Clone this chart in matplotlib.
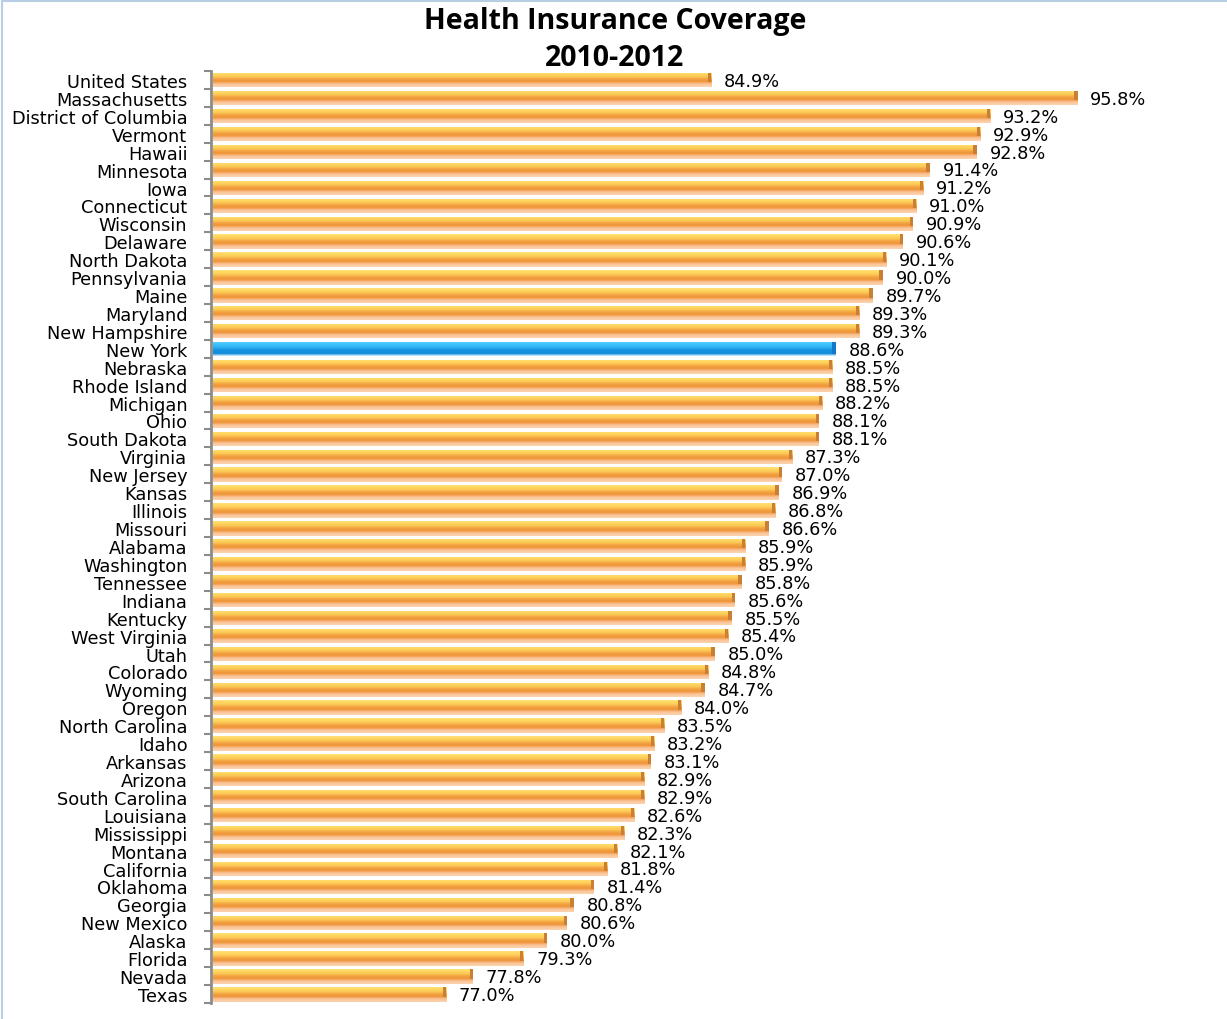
import matplotlib
matplotlib.use("Agg")
import matplotlib.pyplot as plt
import numpy as np
from matplotlib.colors import LinearSegmentedColormap
from matplotlib.patches import Rectangle

states = ["United States", "Massachusetts", "District of Columbia", "Vermont", "Hawaii",
          "Minnesota", "Iowa", "Connecticut", "Wisconsin", "Delaware", "North Dakota",
          "Pennsylvania", "Maine", "Maryland", "New Hampshire", "New York", "Nebraska",
          "Rhode Island", "Michigan", "Ohio", "South Dakota", "Virginia", "New Jersey",
          "Kansas", "Illinois", "Missouri", "Alabama", "Washington", "Tennessee", "Indiana",
          "Kentucky", "West Virginia", "Utah", "Colorado", "Wyoming", "Oregon",
          "North Carolina", "Idaho", "Arkansas", "Arizona", "South Carolina", "Louisiana",
          "Mississippi", "Montana", "California", "Oklahoma", "Georgia", "New Mexico",
          "Alaska", "Florida", "Nevada", "Texas"]
coverage = [84.9, 95.8, 93.2, 92.9, 92.8, 91.4, 91.2, 91.0, 90.9, 90.6, 90.1, 90.0, 89.7,
            89.3, 89.3, 88.6, 88.5, 88.5, 88.2, 88.1, 88.1, 87.3, 87.0, 86.9, 86.8, 86.6,
            85.9, 85.9, 85.8, 85.6, 85.5, 85.4, 85.0, 84.8, 84.7, 84.0, 83.5, 83.2, 83.1,
            82.9, 82.9, 82.6, 82.3, 82.1, 81.8, 81.4, 80.8, 80.6, 80.0, 79.3, 77.8, 77.0]
highlight = "New York"
title = "Health Insurance Coverage\n2010-2012"

XMIN, XMAX = 70, 99

fig = plt.figure(figsize=(12.27, 10.20), dpi=100)
fig.patch.set_facecolor("white")
fig.add_artist(Rectangle((0.0015, -0.01), 1.5, 1.0085, transform=fig.transFigure,
                         fill=False, edgecolor="#B9CDE5", linewidth=1.5))

ax = fig.add_axes([211/1227, 1-1004/1020, (1185-211)/1227, (1004-72)/1020])
n = len(states)
y = np.arange(n)

orange_cmap = LinearSegmentedColormap.from_list("org", [
    (0.00, "#FFE07C"), (0.15, "#FFD760"), (0.33, "#FBC452"), (0.45, "#F4A444"),
    (0.62, "#EE9436"), (0.72, "#F4AB6C"), (0.80, "#FAC598"), (1.00, "#FCD3B0")])
blue_cmap = LinearSegmentedColormap.from_list("blu", [
    (0.00, "#5ED2FF"), (0.20, "#40C4FB"), (0.45, "#2CB0F2"), (0.55, "#1895E2"),
    (0.85, "#1289DA"), (0.92, "#8CCAF0"), (1.00, "#D6ECFA")])

grad = np.linspace(0, 1, 128).reshape(-1, 1)
bar_h = 0.80
for yi, v, s in zip(y, coverage, states):
    is_hi = (s == highlight)
    top = yi - 0.38
    center = top + bar_h / 2
    bar = ax.barh(center, v - XMIN - 0.06, left=XMIN + 0.06, height=bar_h,
                  color="none", zorder=2)[0]
    cmap = blue_cmap if is_hi else orange_cmap
    im = ax.imshow(grad, aspect="auto", cmap=cmap,
                   extent=[XMIN + 0.06, v, top + bar_h, top],
                   zorder=3, interpolation="bilinear")
    im.set_clip_path(bar)
    # darker end cap on the main (upper) part
    cap = "#1478C8" if is_hi else "#C98035"
    cap_h = bar_h * (0.85 if is_hi else 0.65)
    ax.barh(top + cap_h / 2, 0.1, left=v - 0.1, height=cap_h, color=cap, zorder=4)
    ax.text(v + 0.38, yi + 0.05, f"{v:.1f}%", va="center", ha="left",
            fontsize=12.8, color="black", family="DejaVu Sans")

ax.set_xlim(XMIN, XMAX)
ax.set_ylim(n - 0.5, -0.5)
ax.set_yticks(y)
ax.set_yticklabels(states, fontsize=12.8, family="DejaVu Sans")
ax.tick_params(axis="y", which="major", length=0, pad=17)
ax.set_yticks(np.arange(-0.5, n, 1.0), minor=True)
ax.tick_params(axis="y", which="minor", length=5, width=1.5, color="#8C8C8C")
ax.set_xticks([])
for sp in ["top", "right", "bottom"]:
    ax.spines[sp].set_visible(False)
ax.spines["left"].set_color("#8C8C8C")
ax.spines["left"].set_linewidth(2)

fig.text(615/1227, 1-40/1020, title, ha="center", va="center", fontsize=20.5,
         fontweight="bold", family="Open Sans", linespacing=1.38)

fig.savefig("out.png", dpi=100, facecolor="white")
